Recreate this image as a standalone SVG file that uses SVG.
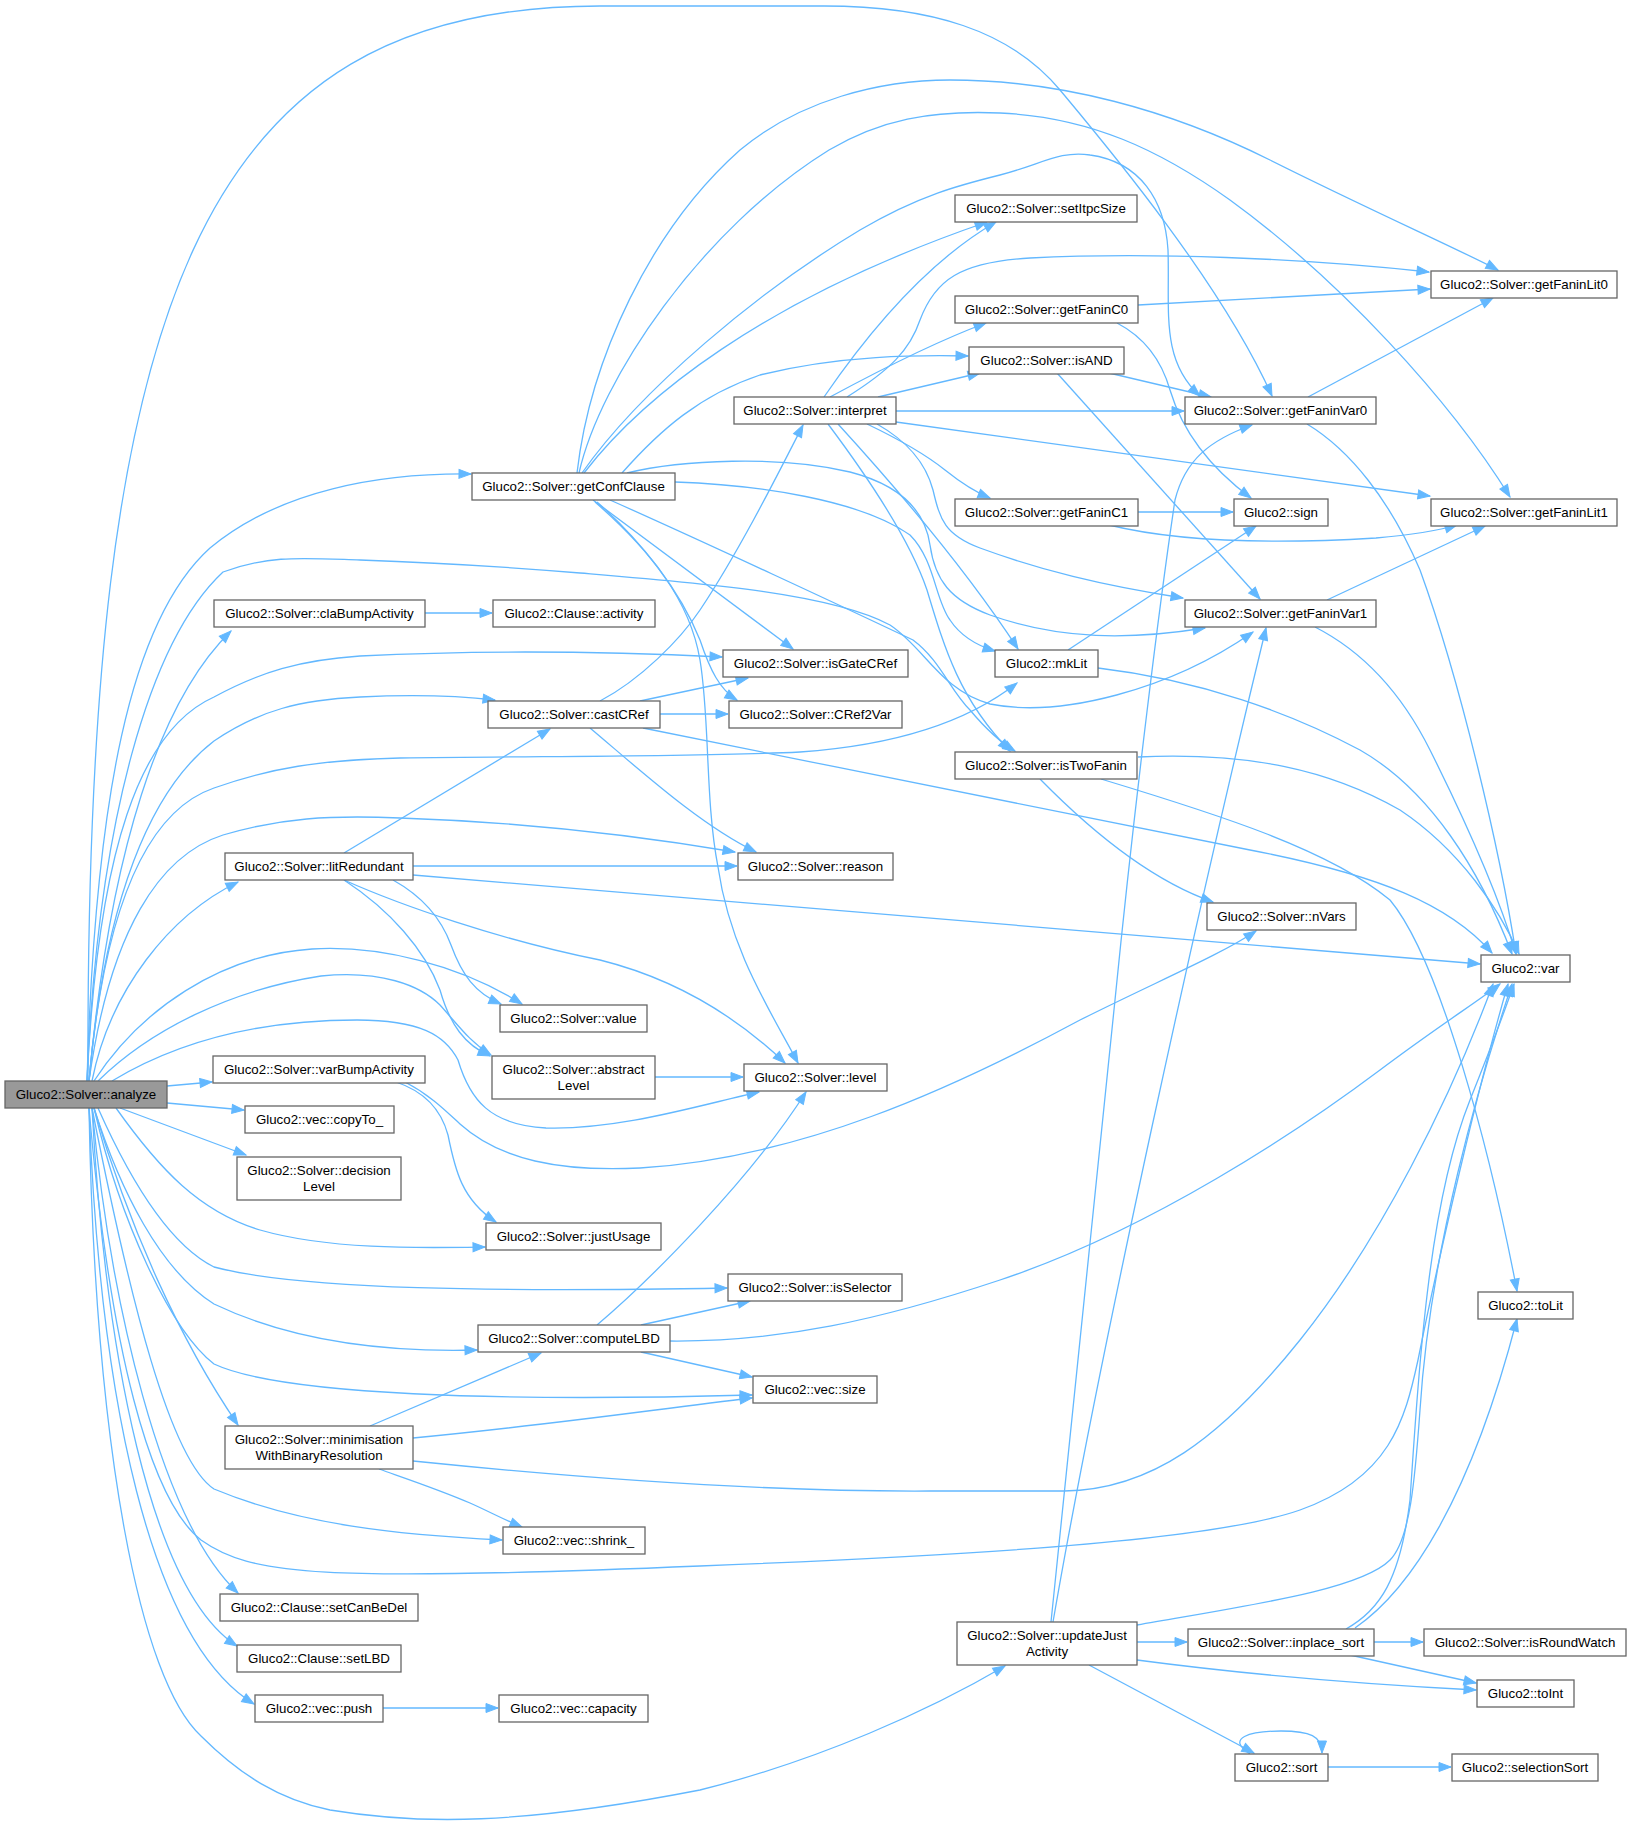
<svg xmlns="http://www.w3.org/2000/svg" width="1631" height="1826" viewBox="0 0 1631 1826">
<defs>
<style>
.node rect{fill:#ffffff;stroke:#666666;stroke-width:1.3}
.node.hl rect{fill:#999999}
.node text{font-family:"Liberation Sans",Arial,Helvetica,sans-serif;font-size:13.3px;text-anchor:middle;fill:#000000}
#edges path{fill:none;stroke:#63b8ff;stroke-width:1.3;marker-end:url(#ah)}
</style>
<marker id="ah" markerUnits="userSpaceOnUse" markerWidth="14" markerHeight="11" refX="12" refY="5" orient="auto" overflow="visible">
<path d="M0,0.5 L12,5 L0,9.5 z" fill="#63b8ff" stroke="#63b8ff" stroke-width="1"/>
</marker>
</defs>
<rect x="0" y="0" width="1631" height="1826" fill="#ffffff"/>
<g id="edges">
<path d="M88,1081 C85,300 200,6 600,6 L824,6 C930,6 1010,30 1060,90 C1100,138 1220,280 1272,396"/>
<path d="M87,1081 C95,800 130,620 210,548 C280,490 380,473 471,474"/>
<path d="M89,1081 C110,850 160,700 231,631"/>
<path d="M87,1081 C98,850 140,730 214,697 C260,672 300,660 360,656 C480,650 600,651 722,657"/>
<path d="M89,1081 C105,900 150,790 214,741 C260,710 300,700 360,697 C420,694 460,696 495,700"/>
<path d="M87,1081 C98,820 150,640 223,572 C270,555 300,558 360,560 C450,563 520,568 580,573 C700,583 830,593 890,625 C925,648 940,690 990,704 C1060,718 1170,690 1253,632"/>
<path d="M89,1081 C105,900 150,810 214,788 C270,768 320,760 400,758 C550,756 700,757 800,752 C900,745 970,720 1017,683"/>
<path d="M89,1081 C110,930 160,855 223,835 C280,818 330,815 400,818 C520,822 640,836 735,852"/>
<path d="M92,1081 C110,990 170,915 238,882"/>
<path d="M94,1081 C140,1010 220,955 312,949 C380,945 460,965 522,1004"/>
<path d="M98,1081 C150,1030 230,990 321,976 C380,970 420,985 440,1005 C458,1025 470,1042 491,1055"/>
<path d="M112,1081 C180,1040 260,1020 357,1020 C420,1020 445,1035 458,1060 C470,1100 490,1125 546,1128 C620,1130 700,1105 759,1092"/>
<path d="M167,1086 L212,1082"/>
<path d="M167,1103 L244,1110"/>
<path d="M120,1108 L246,1155"/>
<path d="M116,1108 C160,1170 200,1212 260,1230 C330,1250 420,1248 485,1247"/>
<path d="M98,1108 C130,1180 170,1245 214,1267 C300,1290 500,1292 727,1288"/>
<path d="M94,1108 C120,1190 160,1270 214,1304 C300,1345 400,1352 477,1350"/>
<path d="M94,1108 C120,1220 170,1330 214,1364 C280,1395 500,1402 752,1395"/>
<path d="M94,1108 C130,1230 180,1340 238,1425"/>
<path d="M92,1108 C130,1300 170,1460 214,1489 C300,1525 400,1535 502,1540"/>
<path d="M89,1108 C110,1350 150,1500 201,1540 C250,1575 320,1582 700,1566 C900,1558 1200,1545 1300,1510 C1390,1478 1405,1420 1418,1360 C1440,1250 1480,1080 1508,984"/>
<path d="M92,1108 C110,1300 160,1520 238,1593"/>
<path d="M92,1108 C105,1350 150,1590 237,1646"/>
<path d="M89,1108 C100,1400 150,1640 254,1704"/>
<path d="M89,1108 C95,1450 140,1680 201,1736 C240,1775 280,1800 330,1810 C420,1825 520,1825 700,1790 C820,1760 930,1710 1005,1666"/>
<path d="M425,613 L492,613"/>
<path d="M344,853 L550,729"/>
<path d="M413,866 L737,866"/>
<path d="M413,875 L1480,964"/>
<path d="M393,880 C420,895 440,915 451,945 C462,975 475,993 501,1004"/>
<path d="M344,880 C390,910 425,950 440,990 C450,1025 465,1045 490,1056"/>
<path d="M344,880 C400,905 500,940 600,960 C680,980 740,1020 785,1063"/>
<path d="M396,1082 C420,1090 440,1105 448,1135 C455,1170 462,1200 496,1222"/>
<path d="M405,1082 C430,1095 445,1110 460,1124 C500,1160 560,1172 640,1168 C800,1158 950,1090 1080,1020 C1160,980 1220,955 1256,931"/>
<path d="M655,1077 L743,1077"/>
<path d="M383,1708 L498,1708"/>
<path d="M597,1325 C650,1280 750,1180 806,1092"/>
<path d="M641,1325 L750,1301"/>
<path d="M641,1352 L752,1377"/>
<path d="M670,1341 C780,1342 880,1320 1000,1280 C1150,1230 1300,1130 1380,1070 C1440,1025 1480,1000 1500,984"/>
<path d="M370,1426 L541,1353"/>
<path d="M413,1438 C550,1425 650,1410 752,1398"/>
<path d="M413,1461 C550,1475 750,1492 930,1491 L1064,1491 C1150,1490 1220,1440 1300,1340 C1380,1240 1450,1100 1493,984"/>
<path d="M379,1469 C410,1480 440,1490 470,1503 C490,1512 505,1520 522,1527"/>
<path d="M600,701 C640,680 680,640 700,610 C740,550 780,470 803,425"/>
<path d="M640,701 L748,678"/>
<path d="M660,714 L728,714"/>
<path d="M590,728 C640,770 700,825 756,852"/>
<path d="M643,728 C850,770 1100,820 1250,850 C1380,875 1450,905 1492,953"/>
<path d="M577,473 C590,360 650,230 740,150 C800,100 880,80 950,80 C1060,80 1170,110 1270,160 C1370,210 1460,250 1498,270"/>
<path d="M579,473 C600,380 700,230 829,150 C880,120 930,110 1000,113 C1090,117 1160,150 1230,200 C1340,280 1450,400 1510,497"/>
<path d="M582,473 C640,390 760,290 860,230 C920,195 960,185 1000,175 C1040,165 1060,150 1090,155 C1140,162 1165,200 1168,250 C1170,310 1160,360 1200,396"/>
<path d="M584,473 C640,400 760,300 987,222"/>
<path d="M622,473 C660,430 700,395 760,375 C840,355 920,355 968,356"/>
<path d="M593,500 L793,649"/>
<path d="M597,502 C640,540 680,590 700,640 C710,670 720,690 737,700"/>
<path d="M595,502 C650,550 690,600 700,660 C710,720 705,800 718,867 C730,950 770,1010 798,1063"/>
<path d="M675,482 C760,485 860,500 910,535 C935,560 935,600 950,620 C960,635 975,645 995,651"/>
<path d="M627,473 C680,460 780,455 850,472 C900,485 925,510 930,545 C935,580 950,600 990,615 C1060,640 1130,640 1205,628"/>
<path d="M610,500 C700,540 850,610 913,640 C940,660 950,690 970,710 C985,728 1000,742 1015,751"/>
<path d="M824,397 C870,330 930,260 996,222"/>
<path d="M830,397 C880,370 940,340 986,323"/>
<path d="M847,397 C890,370 910,350 920,320 C935,280 960,262 1030,258 C1150,252 1300,258 1429,272"/>
<path d="M878,397 L980,373"/>
<path d="M896,411 L1184,411"/>
<path d="M896,422 L1430,496"/>
<path d="M867,424 C890,435 920,450 945,470 C960,482 975,492 990,498"/>
<path d="M877,424 C905,440 925,460 933,490 C940,520 945,535 980,548 C1040,570 1100,585 1183,598"/>
<path d="M838,424 C880,470 960,560 1018,649"/>
<path d="M828,424 C870,480 910,540 927,590 C945,650 960,700 1010,751"/>
<path d="M1109,373 L1211,397"/>
<path d="M1057,373 L1260,599"/>
<path d="M1138,305 L1430,289"/>
<path d="M1117,323 C1140,335 1160,355 1170,390 C1185,440 1220,475 1251,498"/>
<path d="M1138,512 L1233,512"/>
<path d="M1109,525 C1170,540 1260,545 1376,538 C1410,535 1440,530 1457,525"/>
<path d="M1308,397 L1493,298"/>
<path d="M1307,424 C1350,450 1390,500 1420,570 C1460,680 1500,850 1516,954"/>
<path d="M1327,600 L1485,526"/>
<path d="M1315,627 C1360,650 1400,690 1430,750 C1470,830 1500,900 1516,954"/>
<path d="M1068,650 L1256,526"/>
<path d="M1098,668 C1200,680 1291,713 1360,750 C1430,790 1480,870 1512,954"/>
<path d="M1138,757 C1250,752 1330,770 1400,810 C1460,850 1500,910 1519,954"/>
<path d="M1040,779 C1090,830 1150,880 1213,902"/>
<path d="M1101,779 C1220,815 1330,850 1390,900 C1440,960 1490,1150 1517,1291"/>
<path d="M1051,1622 L1115,1000 C1135,800 1160,600 1175,500 C1185,460 1210,440 1252,425"/>
<path d="M1053,1622 C1100,1350 1200,900 1266,628"/>
<path d="M1137,1625 C1250,1605 1360,1590 1390,1560 C1410,1540 1415,1480 1420,1410 C1430,1250 1480,1080 1512,984"/>
<path d="M1137,1642 L1187,1642"/>
<path d="M1137,1660 C1250,1675 1380,1685 1476,1690"/>
<path d="M1089,1665 L1254,1753"/>
<path d="M1374,1642 L1423,1642"/>
<path d="M1350,1655 L1476,1683"/>
<path d="M1346,1629 C1380,1610 1400,1580 1410,1500 C1420,1350 1430,1200 1470,1100 C1490,1050 1505,1010 1514,984"/>
<path d="M1355,1628 C1410,1590 1470,1500 1517,1319"/>
<path d="M1250,1754 C1225,1738 1250,1731 1281,1731 C1310,1731 1322,1736 1322,1753"/>
<path d="M1328,1767 L1451,1767"/>
</g>
<g id="n_analyze" class="node hl"><rect x="5" y="1081" width="162" height="27"/><text x="86" y="1099">Gluco2::Solver::analyze</text></g>
<g id="n_getConfClause" class="node"><rect x="472" y="473" width="203" height="27"/><text x="573.5" y="491">Gluco2::Solver::getConfClause</text></g>
<g id="n_claBumpActivity" class="node"><rect x="214" y="600" width="211" height="27"/><text x="319.5" y="618">Gluco2::Solver::claBumpActivity</text></g>
<g id="n_activity" class="node"><rect x="493" y="600" width="162" height="27"/><text x="574" y="618">Gluco2::Clause::activity</text></g>
<g id="n_castCRef" class="node"><rect x="488" y="701" width="172" height="27"/><text x="574" y="719">Gluco2::Solver::castCRef</text></g>
<g id="n_litRedundant" class="node"><rect x="225" y="853" width="188" height="27"/><text x="319" y="871">Gluco2::Solver::litRedundant</text></g>
<g id="n_value" class="node"><rect x="500" y="1005" width="147" height="27"/><text x="573.5" y="1023">Gluco2::Solver::value</text></g>
<g id="n_abstractLevel" class="node"><rect x="492" y="1056" width="163" height="43"/><text x="573.5" y="1074">Gluco2::Solver::abstract</text><text x="573.5" y="1090">Level</text></g>
<g id="n_varBumpActivity" class="node"><rect x="213" y="1056" width="212" height="27"/><text x="319" y="1074">Gluco2::Solver::varBumpActivity</text></g>
<g id="n_copyTo" class="node"><rect x="245" y="1106" width="149" height="27"/><text x="319.5" y="1124">Gluco2::vec::copyTo_</text></g>
<g id="n_decisionLevel" class="node"><rect x="237" y="1157" width="164" height="43"/><text x="319" y="1175">Gluco2::Solver::decision</text><text x="319" y="1191">Level</text></g>
<g id="n_justUsage" class="node"><rect x="486" y="1223" width="175" height="27"/><text x="573.5" y="1241">Gluco2::Solver::justUsage</text></g>
<g id="n_computeLBD" class="node"><rect x="478" y="1325" width="192" height="27"/><text x="574" y="1343">Gluco2::Solver::computeLBD</text></g>
<g id="n_minimisation" class="node"><rect x="225" y="1426" width="188" height="43"/><text x="319" y="1444">Gluco2::Solver::minimisation</text><text x="319" y="1460">WithBinaryResolution</text></g>
<g id="n_shrink" class="node"><rect x="503" y="1527" width="142" height="27"/><text x="574" y="1545">Gluco2::vec::shrink_</text></g>
<g id="n_setCanBeDel" class="node"><rect x="220" y="1594" width="198" height="27"/><text x="319" y="1612">Gluco2::Clause::setCanBeDel</text></g>
<g id="n_setLBD" class="node"><rect x="237" y="1645" width="164" height="27"/><text x="319" y="1663">Gluco2::Clause::setLBD</text></g>
<g id="n_push" class="node"><rect x="255" y="1695" width="128" height="27"/><text x="319" y="1713">Gluco2::vec::push</text></g>
<g id="n_capacity" class="node"><rect x="499" y="1695" width="149" height="27"/><text x="573.5" y="1713">Gluco2::vec::capacity</text></g>
<g id="n_setItpcSize" class="node"><rect x="955" y="195" width="182" height="27"/><text x="1046" y="213">Gluco2::Solver::setItpcSize</text></g>
<g id="n_getFaninC0" class="node"><rect x="955" y="296" width="183" height="27"/><text x="1046.5" y="314">Gluco2::Solver::getFaninC0</text></g>
<g id="n_isAND" class="node"><rect x="969" y="347" width="155" height="27"/><text x="1046.5" y="365">Gluco2::Solver::isAND</text></g>
<g id="n_interpret" class="node"><rect x="734" y="397" width="162" height="27"/><text x="815" y="415">Gluco2::Solver::interpret</text></g>
<g id="n_getFaninC1" class="node"><rect x="955" y="499" width="183" height="27"/><text x="1046.5" y="517">Gluco2::Solver::getFaninC1</text></g>
<g id="n_isGateCRef" class="node"><rect x="723" y="650" width="185" height="27"/><text x="815.5" y="668">Gluco2::Solver::isGateCRef</text></g>
<g id="n_mkLit" class="node"><rect x="995" y="650" width="103" height="27"/><text x="1046.5" y="668">Gluco2::mkLit</text></g>
<g id="n_CRef2Var" class="node"><rect x="729" y="701" width="173" height="27"/><text x="815.5" y="719">Gluco2::Solver::CRef2Var</text></g>
<g id="n_isTwoFanin" class="node"><rect x="955" y="752" width="182" height="27"/><text x="1046" y="770">Gluco2::Solver::isTwoFanin</text></g>
<g id="n_reason" class="node"><rect x="738" y="853" width="155" height="27"/><text x="815.5" y="871">Gluco2::Solver::reason</text></g>
<g id="n_level" class="node"><rect x="744" y="1064" width="143" height="27"/><text x="815.5" y="1082">Gluco2::Solver::level</text></g>
<g id="n_isSelector" class="node"><rect x="728" y="1274" width="174" height="27"/><text x="815" y="1292">Gluco2::Solver::isSelector</text></g>
<g id="n_size" class="node"><rect x="753" y="1376" width="124" height="27"/><text x="815" y="1394">Gluco2::vec::size</text></g>
<g id="n_getFaninLit0" class="node"><rect x="1431" y="271" width="186" height="27"/><text x="1524" y="289">Gluco2::Solver::getFaninLit0</text></g>
<g id="n_getFaninVar0" class="node"><rect x="1185" y="397" width="191" height="27"/><text x="1280.5" y="415">Gluco2::Solver::getFaninVar0</text></g>
<g id="n_sign" class="node"><rect x="1234" y="499" width="94" height="27"/><text x="1281" y="517">Gluco2::sign</text></g>
<g id="n_getFaninLit1" class="node"><rect x="1431" y="499" width="186" height="27"/><text x="1524" y="517">Gluco2::Solver::getFaninLit1</text></g>
<g id="n_getFaninVar1" class="node"><rect x="1185" y="600" width="191" height="27"/><text x="1280.5" y="618">Gluco2::Solver::getFaninVar1</text></g>
<g id="n_nVars" class="node"><rect x="1207" y="903" width="149" height="27"/><text x="1281.5" y="921">Gluco2::Solver::nVars</text></g>
<g id="n_var" class="node"><rect x="1481" y="955" width="89" height="27"/><text x="1525.5" y="973">Gluco2::var</text></g>
<g id="n_toLit" class="node"><rect x="1478" y="1292" width="95" height="27"/><text x="1525.5" y="1310">Gluco2::toLit</text></g>
<g id="n_updateJustActivity" class="node"><rect x="957" y="1622" width="180" height="43"/><text x="1047" y="1640">Gluco2::Solver::updateJust</text><text x="1047" y="1656">Activity</text></g>
<g id="n_inplace_sort" class="node"><rect x="1188" y="1629" width="186" height="27"/><text x="1281" y="1647">Gluco2::Solver::inplace_sort</text></g>
<g id="n_isRoundWatch" class="node"><rect x="1424" y="1629" width="202" height="27"/><text x="1525" y="1647">Gluco2::Solver::isRoundWatch</text></g>
<g id="n_toInt" class="node"><rect x="1477" y="1680" width="97" height="27"/><text x="1525.5" y="1698">Gluco2::toInt</text></g>
<g id="n_sort" class="node"><rect x="1235" y="1754" width="93" height="27"/><text x="1281.5" y="1772">Gluco2::sort</text></g>
<g id="n_selectionSort" class="node"><rect x="1452" y="1754" width="146" height="27"/><text x="1525" y="1772">Gluco2::selectionSort</text></g>
</svg>
